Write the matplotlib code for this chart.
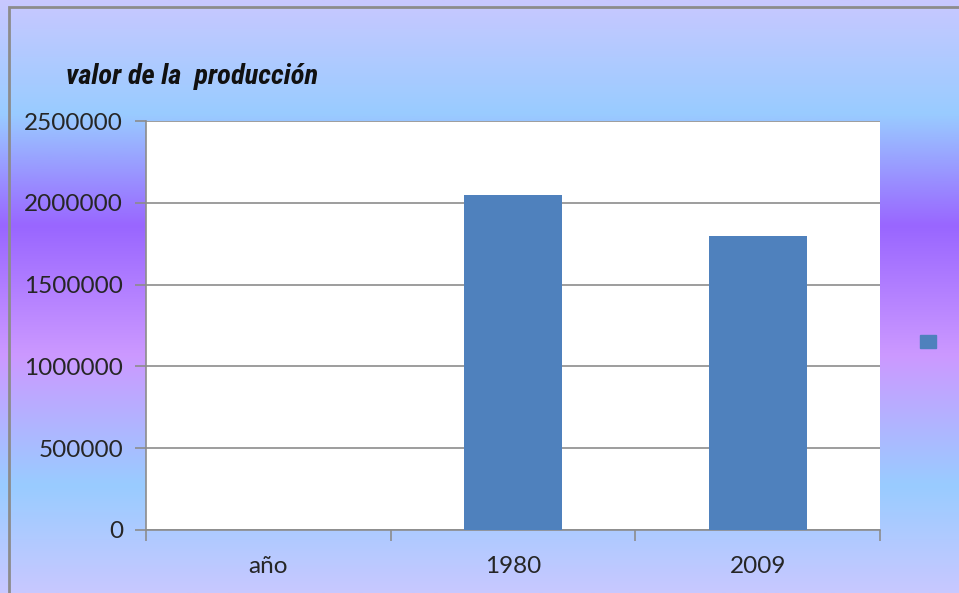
import numpy as np
import matplotlib.pyplot as plt
from matplotlib.colors import LinearSegmentedColormap
from matplotlib.patches import Patch, Rectangle

categorias = ["año", "1980", "2009"]
valores = [0, 2045000, 1795000]
ticks_y = [0, 500000, 1000000, 1500000, 2000000, 2500000]
titulo = "valor de la  producción"

color_barra = "#4f81bd"
color_gris = "#8c8c8c"

fig = plt.figure(figsize=(9.59, 5.93), dpi=100)

# fondo degradado vertical
fondo = fig.add_axes([0, 0, 1, 1], zorder=-10)
cmap = LinearSegmentedColormap.from_list(
    "fondo",
    [(0.0, "#c8c8ff"), (0.19, "#99ccff"), (0.38, "#9966ff"),
     (0.60, "#cc99ff"), (0.82, "#99ccff"), (1.0, "#c8c8ff")])
grad = np.linspace(0, 1, 256).reshape(-1, 1)
fondo.imshow(grad, aspect="auto", cmap=cmap, extent=[0, 1, 0, 1], origin="upper")
fondo.add_patch(Rectangle((9 / 959, -0.05), 1.1, 1.05 - 7 / 593, fill=False,
                          edgecolor=color_gris, linewidth=2, transform=fondo.transAxes))
fondo.set_xlim(0, 1)
fondo.set_ylim(0, 1)
fondo.axis("off")

ax = fig.add_axes([146 / 959, 63 / 593, 734 / 959, 409 / 593])
ax.set_facecolor("white")
x = np.arange(len(categorias))
ax.bar(x, valores, width=0.4, color=color_barra, zorder=3)

ax.set_xlim(-0.5, len(categorias) - 0.5)
ax.set_ylim(0, 2500000)
ax.set_yticks(ticks_y)
ax.set_yticklabels([str(t) for t in ticks_y])
ax.yaxis.grid(True, color=color_gris, linewidth=1.2, zorder=0)

ax.set_xticks(x)
ax.set_xticklabels(categorias)
ax.set_xticks(np.arange(-0.5, len(categorias)), minor=True)
ax.tick_params(axis="x", which="major", length=0, pad=19)
ax.tick_params(axis="x", which="minor", length=8, color=color_gris, width=1.2)
ax.tick_params(axis="y", length=8, color=color_gris, width=1.2, pad=8.5)
for lab in ax.get_xticklabels() + ax.get_yticklabels():
    lab.set_fontfamily("Lato")
    lab.set_fontsize(17.5)
    lab.set_color("#262626")

for lado in ["top", "right"]:
    ax.spines[lado].set_visible(False)
for lado in ["left", "bottom"]:
    ax.spines[lado].set_color(color_gris)
    ax.spines[lado].set_linewidth(1.2)

fig.text(66 / 959, 1 - 84 / 593, titulo, fontsize=20.5, fontweight="bold",
         fontstyle="italic", fontfamily=["Roboto Condensed", "DejaVu Sans"],
         va="baseline", ha="left", color="#111111")

# leyenda con una sola serie sin nombre
fig.legend(handles=[Patch(color=color_barra)], labels=[""], loc="center",
           bbox_to_anchor=(928 / 959, 1 - 342 / 593), frameon=False,
           handlelength=1.1, handleheight=1.1, handletextpad=0, borderpad=0)

fig.savefig("out.png", dpi=100)
